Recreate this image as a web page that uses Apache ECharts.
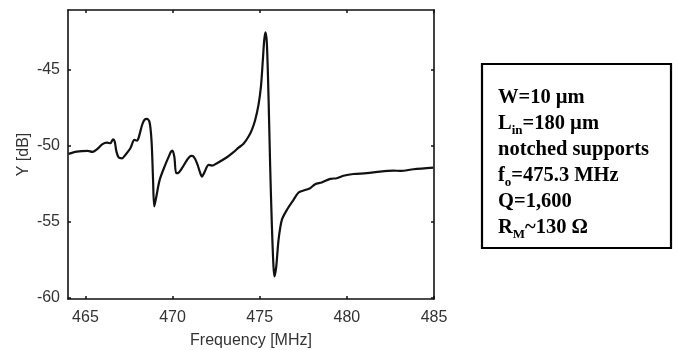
<!DOCTYPE html>
<html><head><meta charset="utf-8">
<script src="https://cdn.jsdelivr.net/npm/echarts@6/dist/echarts.min.js"></script>
<style>html,body{margin:0;padding:0;background:#fff}#c{width:677px;height:350px}</style>
</head><body><div id="c"></div>
<script>
const freq = [464.03,464.5,465.13,465.4,465.67,465.96,466.24,466.43,466.59,466.68,466.78,466.91,467.1,467.29,467.58,467.81,467.96,468.06,468.25,468.38,468.53,468.67,468.76,468.82,468.88,468.95,469.07,469.26,469.58,469.78,469.91,469.99,470.1,470.21,470.35,470.54,470.83,471.06,471.21,471.4,471.59,471.69,471.82,472.07,472.26,472.55,473.12,473.5,473.79,474.07,474.36,474.55,474.74,474.93,475.07,475.18,475.26,475.33,475.41,475.51,475.6,475.7,475.79,475.85,475.95,476.08,476.27,476.56,476.94,477.23,477.51,477.89,478.18,478.56,479.04,479.42,479.8,480.38,481.14,481.9,482.67,483.05,483.82,484.96];
const ydb = [-50.56,-50.41,-50.36,-50.43,-50.25,-49.93,-49.82,-49.86,-49.6,-49.75,-50.41,-50.8,-50.85,-50.63,-50.19,-49.64,-49.69,-49.47,-48.66,-48.33,-48.26,-48.44,-49.2,-50.3,-52.27,-54.02,-53.36,-52.27,-51.28,-50.74,-50.41,-50.34,-50.74,-51.83,-51.79,-51.5,-50.96,-50.69,-50.74,-51.17,-51.83,-52.05,-51.79,-51.28,-51.33,-51.17,-50.78,-50.45,-50.15,-49.9,-49.42,-48.98,-48.33,-47.34,-46.14,-44.39,-43.07,-42.57,-43.29,-47.01,-51.39,-55.34,-57.96,-58.62,-57.96,-56.21,-54.9,-54.24,-53.58,-53.1,-52.97,-52.82,-52.55,-52.44,-52.2,-52.16,-52.0,-51.88,-51.83,-51.72,-51.66,-51.68,-51.57,-51.46];
const xTicks = [465,470,475,480,485];
const yTicks = [-60,-55,-50,-45];
const noteLines = ['W=10 µm','L{s|in}=180 µm','notched supports','f{s|o}=475.3 MHz','Q=1,600','R{s|M}~130 Ω'];

const chart = echarts.init(document.getElementById('c'));
const axisLine = {show:true, lineStyle:{color:'#111', width:1.6}};
const tickIn = {show:true, inside:true, length:3, lineStyle:{color:'#111', width:1.5}};
const lblFont = {color:'#333', fontFamily:'Liberation Sans, Arial, sans-serif', fontSize:16};
chart.setOption({
  animation:false,
  grid:{left:68, right:243, top:10, bottom:51, outerBoundsMode:'none', containLabel:false},
  xAxis:[
    {type:'value', min:464, max:485, interval:5, position:'bottom',
     axisLine, axisTick:Object.assign({},tickIn,{customValues:xTicks}), splitLine:{show:false},
     axisLabel:Object.assign({customValues:xTicks, margin:11}, lblFont),
     name:'Frequency [MHz]', nameLocation:'middle', nameGap:34, nameMoveOverlap:false,
     nameTextStyle:Object.assign({}, lblFont, {fontSize:16})},
    {type:'value', min:464, max:485, position:'top',
     axisLine, axisTick:Object.assign({},tickIn,{customValues:xTicks}), axisLabel:{show:false}, splitLine:{show:false}}
  ],
  yAxis:[
    {type:'value', min:-60.1, max:-41.1, position:'left',
     axisLine, axisTick:Object.assign({},tickIn,{customValues:yTicks}), splitLine:{show:false},
     axisLabel:Object.assign({customValues:yTicks, margin:8}, lblFont),
     name:'Y [dB]', nameLocation:'middle', nameGap:36, nameRotate:90, nameMoveOverlap:false,
     nameTextStyle:Object.assign({}, lblFont, {fontSize:16})},
    {type:'value', min:-60.1, max:-41.1, position:'right',
     axisLine, axisTick:Object.assign({},tickIn,{customValues:yTicks}), axisLabel:{show:false}, splitLine:{show:false}}
  ],
  series:[{
    type:'line', data:freq.map((f,i)=>[f,ydb[i]]), showSymbol:false, smooth:0.3,
    lineStyle:{color:'#111', width:2.2}
  }],
  graphic:[
    {type:'rect', shape:{x:482, y:64, width:189, height:184},
     style:{fill:'#fff', stroke:'#000', lineWidth:2.2}},
    ...noteLines.map((t,i)=>({
      type:'text', x:498, y:108 + i*26,
      style:{text:t, fill:'#000', font:'bold 20.5px "Liberation Serif", "Times New Roman", serif',
        textVerticalAlign:'bottom',
        rich:{s:{fontSize:13, fontWeight:'bold', fontFamily:'Liberation Serif', verticalAlign:'bottom', padding:[0,0,-3,0]}}}
    }))
  ]
});
</script></body></html>
